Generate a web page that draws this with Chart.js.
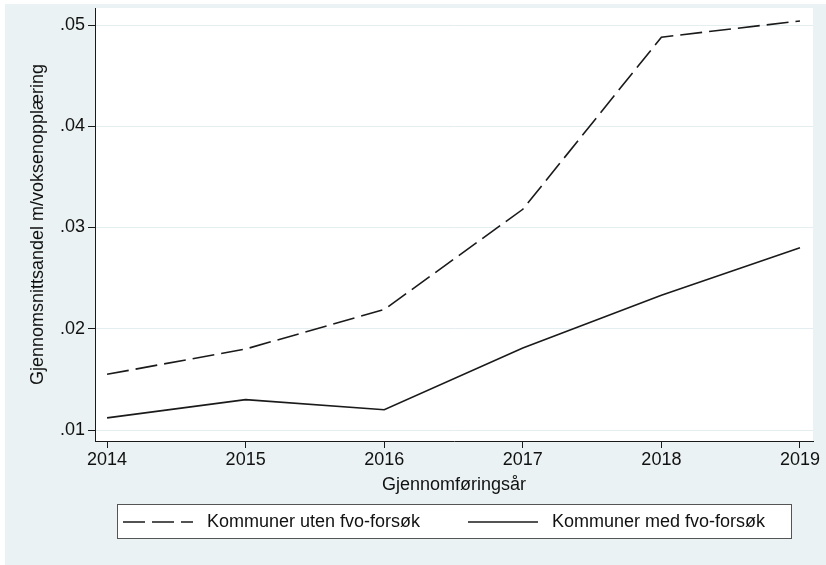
<!DOCTYPE html>
<html><head><meta charset="utf-8">
<script src="https://cdn.jsdelivr.net/npm/chart.js@4"></script>
<style>
html,body{margin:0;padding:0;background:#fff;}
#wrap{position:absolute;left:5px;top:4px;width:821px;height:561px;}
canvas{display:block;}
</style></head>
<body><div id="wrap"><canvas id="c" width="821" height="561"></canvas></div>
<script>
const years = [2014, 2015, 2016, 2017, 2018, 2019];
const utenFvo = [0.0155, 0.0180, 0.0219, 0.0318, 0.0488, 0.0504];
const medFvo = [0.0112, 0.0130, 0.0120, 0.0181, 0.0233, 0.0280];
const yTicks = [0.01, 0.02, 0.03, 0.04, 0.05];
const seriesLabels = ['Kommuner uten fvo-forsøk', 'Kommuner med fvo-forsøk'];
const xTitle = 'Gjennomføringsår';
const yTitle = 'Gjennomsnittsandel m/voksenopplæring';

const FONT = '"Liberation Sans", Arial, Helvetica, sans-serif';
const INK = '#1a1a1a';
const BG = '#eaf2f3';
const DASH = [22, 7];

const bgPlugin = {
  id: 'bg',
  beforeDraw(chart) {
    const ctx = chart.ctx, ca = chart.chartArea;
    ctx.save();
    ctx.fillStyle = BG;
    ctx.fillRect(0, 0, chart.width, chart.height);
    ctx.fillStyle = '#ffffff';
    ctx.fillRect(ca.left, ca.top, ca.right - ca.left, ca.bottom - ca.top);
    ctx.restore();
  }
};

const legendPlugin = {
  id: 'boxLegend',
  afterDraw(chart) {
    const ctx = chart.ctx, ca = chart.chartArea;
    const left = ca.left + 22, right = ca.right - 21;
    const top = ca.bottom + 63, bottom = ca.bottom + 98;
    const cy = (top + bottom) / 2 + 0.5;
    ctx.save();
    ctx.fillStyle = '#ffffff';
    ctx.fillRect(left, top, right - left, bottom - top);
    ctx.strokeStyle = '#555';
    ctx.lineWidth = 1;
    ctx.strokeRect(left + 0.5, top + 0.5, right - left - 1, bottom - top - 1);
    const starts = [left + 6, left + 351];
    chart.data.datasets.forEach((ds, i) => {
      const x0 = starts[i];
      ctx.beginPath();
      ctx.setLineDash(ds.borderDash || []);
      ctx.strokeStyle = ds.borderColor;
      ctx.lineWidth = ds.borderWidth;
      ctx.moveTo(x0, cy);
      ctx.lineTo(x0 + 70, cy);
      ctx.stroke();
      ctx.setLineDash([]);
      ctx.fillStyle = '#111';
      ctx.font = '18px ' + FONT;
      ctx.textBaseline = 'middle';
      ctx.textAlign = 'left';
      ctx.fillText(ds.label, x0 + 84, cy);
    });
    ctx.restore();
  }
};

const zeroPad = s => { s.paddingLeft = 0; s.paddingRight = 0; s.paddingTop = 0; s.paddingBottom = 0; };

new Chart(document.getElementById('c'), {
  type: 'line',
  data: {
    datasets: [
      { label: seriesLabels[0], data: years.map((y, i) => ({x: y, y: utenFvo[i]})),
        borderColor: INK, borderWidth: 1.6, borderDash: DASH, pointRadius: 0, tension: 0, fill: false },
      { label: seriesLabels[1], data: years.map((y, i) => ({x: y, y: medFvo[i]})),
        borderColor: INK, borderWidth: 1.6, pointRadius: 0, tension: 0, fill: false }
    ]
  },
  options: {
    responsive: false,
    animation: false,
    devicePixelRatio: 1,
    layout: { padding: { left: 0, top: 4, right: 13, bottom: 64 } },
    plugins: { legend: { display: false }, tooltip: { enabled: false } },
    scales: {
      x: {
        type: 'linear',
        min: 2013.913, max: 2019.094,
        afterBuildTicks: s => { s.ticks = years.map(v => ({ value: v })); },
        afterFit: s => { s.height = 60; zeroPad(s); },
        grid: { drawOnChartArea: false, drawTicks: true, tickLength: 7, tickColor: INK, tickWidth: 1 },
        border: { color: INK, width: 1 },
        ticks: { padding: 1, color: '#111', font: { family: FONT, size: 18 }, maxRotation: 0, autoSkip: false,
                 callback: v => String(v) },
        title: { display: true, text: xTitle, color: '#111', font: { family: FONT, size: 18 }, padding: { top: 0, bottom: 5 } }
      },
      y: {
        min: 0.008914, max: 0.051679,
        afterBuildTicks: s => { s.ticks = yTicks.map(v => ({ value: v })); },
        afterFit: s => { s.width = 90; zeroPad(s); },
        grid: { color: '#e4eef0', lineWidth: 1, drawTicks: true, tickLength: 7, tickColor: INK, tickWidth: 1 },
        border: { color: INK, width: 1 },
        ticks: { padding: 3, color: '#111', font: { family: FONT, size: 18 }, autoSkip: false,
                 callback: v => v.toFixed(2).replace(/^0/, '') },
        title: { display: true, text: yTitle, color: '#111', font: { family: FONT, size: 18 }, padding: { top: 22, bottom: 0 } }
      }
    }
  },
  plugins: [bgPlugin, legendPlugin]
});
</script>
</body></html>
